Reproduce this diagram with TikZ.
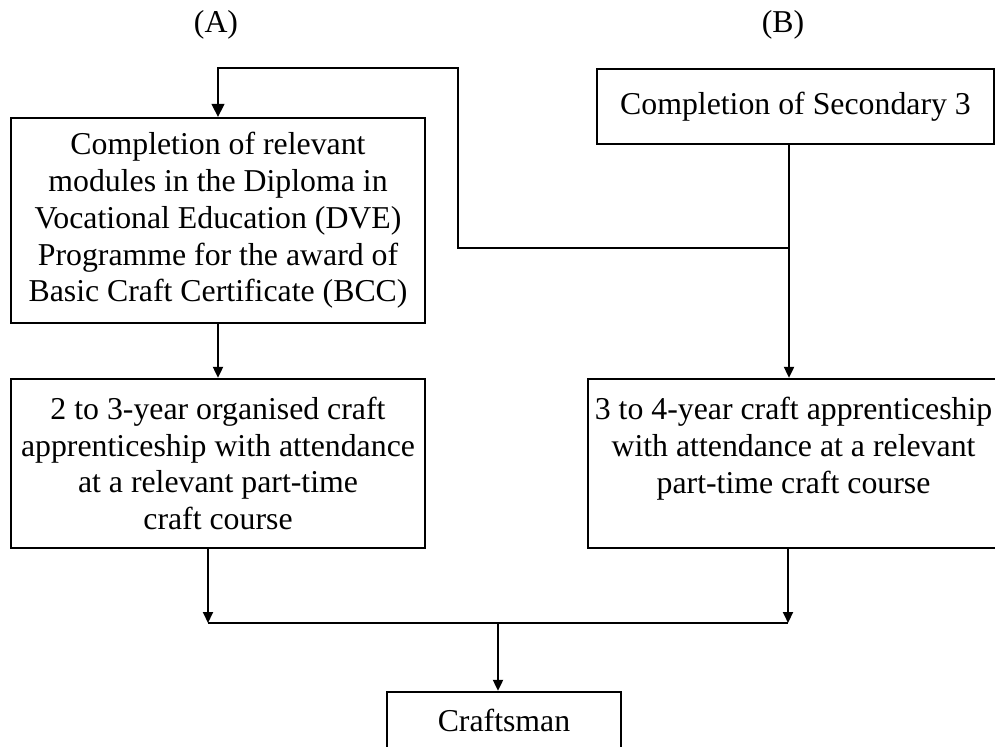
\documentclass[tikz,border=0pt]{standalone}
\usepackage{fontspec}
\setmainfont{Liberation Serif}
\usetikzlibrary{arrows.meta,positioning}
\tikzset{
  >={Triangle[length=2.2mm,width=2mm]},
  stage/.style={draw,line width=1.3pt,align=center,inner sep=2pt,
    font=\fontsize{18.1}{20.9}\selectfont},
  link/.style={->,line width=1.1pt},
  tag/.style={font=\fontsize{18.1}{20.9}\selectfont},
}
\begin{document}
\begin{tikzpicture}
  \clip (0,0) rectangle (19.9,14.92);
  \node[tag] (routeA) at (4.32,14.42) {(A)};
  \node[tag] (routeB) at (15.66,14.42) {(B)};
  % stages
  \node[stage,minimum width=8.28cm,minimum height=4.1cm] (dve) at (4.36,10.51)
    {Completion of relevant\\modules in the Diploma in\\Vocational Education (DVE)\\Programme for the award of\\Basic Craft Certificate (BCC)};
  \node[stage,minimum width=7.94cm,minimum height=1.5cm] (sec) at (15.91,12.79) {Completion of Secondary 3};
  \node[stage,minimum width=8.28cm,minimum height=3.38cm] (orgapp) at (4.36,5.65)
    {2 to 3-year organised craft\\apprenticeship with attendance\\at a relevant part-time\\craft course};
  \node[stage,minimum width=8.22cm,minimum height=3.38cm] (app) at (15.87,5.65)
    {3 to 4-year craft apprenticeship\\with attendance at a relevant\\part-time craft course\\\mbox{}};
  \node[stage,minimum width=4.68cm,minimum height=1.12cm] (craft) at (10.08,0.52) {Craftsman};
  % junctions
  \coordinate (split) at (15.78,9.96);
  \coordinate (loop) at (9.16,13.56);
  \coordinate (mergeL) at (4.16,2.46);
  \coordinate (mergeR) at (15.76,2.46);
  \coordinate (merge) at (9.96,2.46);
  % connectors
  \draw[link] (sec.south -| split) -- (app.north -| split);
  \draw[-{Triangle[length=2.6mm,width=2.6mm]},line width=0.8pt] (split) -| (loop) -| (dve.north);
  \draw[link] (dve) -- (orgapp);
  \draw[link] (orgapp.south -| mergeL) -- (mergeL);
  \draw[link] (app.south -| mergeR) -- (mergeR);
  \draw[line width=1.1pt] (mergeL) -- (mergeR);
  \draw[link] (merge) -- (craft.north -| merge);
\end{tikzpicture}
\end{document}
